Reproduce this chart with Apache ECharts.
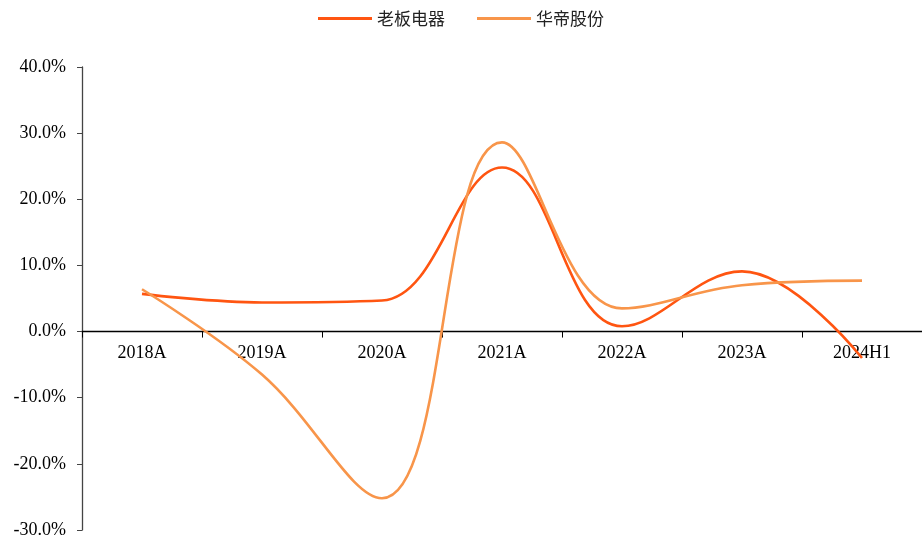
<!DOCTYPE html>
<html>
<head>
<meta charset="utf-8">
<script src="https://cdn.jsdelivr.net/npm/echarts@6/dist/echarts.min.js"></script>
<style>
  html, body { margin: 0; padding: 0; background: #fff; }
  #main { width: 922px; height: 541px; }
</style>
</head>
<body>
<div id="main"></div>
<script>
// 年份
const categories = ['2018A', '2019A', '2020A', '2021A', '2022A', '2023A', '2024H1'];
// 营收增速 %
const robam = [5.7, 4.4, 4.7, 24.8, 0.8, 9.1, -4.0];
const vatti = [6.4, -6.5, -25.2, 28.6, 3.5, 7.0, 7.7];

const serif = '"Liberation Serif", "Times New Roman", serif';
const cjk = '"Noto Sans CJK SC", serif';

const gridTop = 67, gridBottom = 11, yMin = -30, yMax = 40;
const plotH = 541 - gridTop - gridBottom;
// 横轴放在0值处
const zeroOffset = -(plotH * (0 - yMin) / (yMax - yMin));

const chart = echarts.init(document.getElementById('main'));

chart.setOption({
  animation: false,
  legend: {
    top: 5,
    left: 'center',
    itemWidth: 54,
    itemHeight: 3,
    itemGap: 32,
    icon: 'rect',
    textStyle: { fontFamily: cjk, fontSize: 17, color: '#222' },
    data: ['老板电器', '华帝股份']
  },
  grid: { left: 82, right: 0, top: gridTop, bottom: gridBottom },
  xAxis: {
    type: 'category',
    data: categories,
    boundaryGap: true,
    position: 'bottom',
    offset: zeroOffset,
    axisLine: { onZero: false, lineStyle: { color: '#000', width: 1.3 } },
    axisTick: { show: true, length: 6, inside: false, lineStyle: { color: '#000' } },
    axisLabel: { fontFamily: serif, fontSize: 18, color: '#000', margin: 13 }
  },
  yAxis: {
    type: 'value',
    min: yMin,
    max: yMax,
    interval: 10,
    splitLine: { show: false },
    axisLine: { show: true, lineStyle: { color: '#444', width: 1.3 } },
    axisTick: { show: true, length: 5, lineStyle: { color: '#444' } },
    axisLabel: {
      fontFamily: serif, fontSize: 18, color: '#000', margin: 16,
      formatter: v => v.toFixed(1) + '%'
    }
  },
  series: [
    {
      name: '老板电器',
      type: 'line',
      data: robam,
      smooth: 0.4,
      showSymbol: false,
      itemStyle: { color: '#FF5511' },
      lineStyle: { color: '#FF5511', width: 2.6 }
    },
    {
      name: '华帝股份',
      type: 'line',
      data: vatti,
      smooth: 0.4,
      showSymbol: false,
      itemStyle: { color: '#F8954A' },
      lineStyle: { color: '#F8954A', width: 2.6 }
    }
  ]
});
</script>
</body>
</html>
